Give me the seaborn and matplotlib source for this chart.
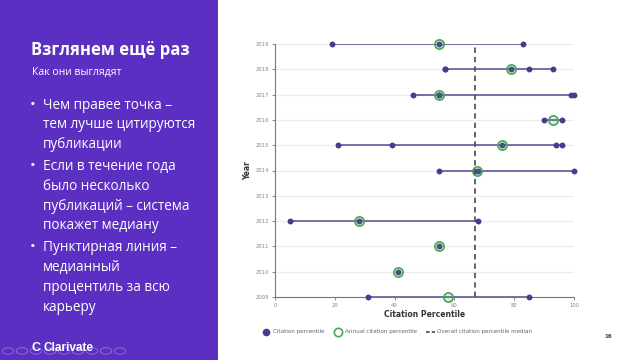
import matplotlib
matplotlib.use("Agg")
import matplotlib.pyplot as plt
from matplotlib.lines import Line2D
from matplotlib.patches import Rectangle, Circle
import seaborn as sns
import pandas as pd

# citation percentile of each paper, by year
paper_years = [2019, 2019, 2019,
               2018, 2018, 2018, 2018, 2018,
               2017, 2017, 2017, 2017, 2017,
               2016, 2016,
               2015, 2015, 2015, 2015, 2015,
               2014, 2014, 2014, 2014,
               2012, 2012, 2012,
               2011,
               2010,
               2009, 2009]
paper_pct = [19, 55, 83,
             57, 57, 79, 85, 93,
             46, 55, 55, 99, 100,
             90, 96,
             21, 39, 76, 94, 96,
             55, 67, 68, 100,
             5, 28, 68,
             55,
             41,
             31, 85]

# annual (median) citation percentile
annual_years = [2019, 2018, 2017, 2016, 2015, 2014, 2012, 2011, 2010, 2009]
annual_pct = [55, 79, 55, 93, 76, 67.5, 28, 55, 41, 58]

overall_median = 67
year_ticks = list(range(2009, 2020))
x_ticks = [0, 20, 40, 60, 80, 100]

purple_panel = "#5a2fc2"
dot_col = "#483c8c"
line_col = "#5f5898"
green = "#4aa556"

papers = pd.DataFrame({"Year": paper_years, "Citation Percentile": paper_pct})
annual = pd.DataFrame({"Year": annual_years, "Citation Percentile": annual_pct})
spans = papers.groupby("Year")["Citation Percentile"].agg(["min", "max"]).reset_index()

sns.set_theme(style="white")
fig = plt.figure(figsize=(6.4, 3.6), dpi=100)
fig.patch.set_facecolor("white")

# left purple panel with text
fig.patches.append(Rectangle((0, 0), 218 / 640, 1, transform=fig.transFigure,
                             facecolor=purple_panel, edgecolor="none", zorder=0))
fig.text(31 / 640, 1 - 50 / 360, "Взглянем ещё раз", color="white", fontsize=12,
         fontweight="bold", family="Open Sans", va="center")
fig.text(32 / 640, 1 - 72 / 360, "Как они выглядят", color="white", fontsize=7.5,
         family="Open Sans", va="center")
bullets = [
    ["Чем правее точка –", "тем лучше цитируются", "публикации"],
    ["Если в течение года", "было несколько", "публикаций – система", "покажет медиану"],
    ["Пунктирная линия –", "медианный", "процентиль за всю", "карьеру"],
]
y = 105
for b in bullets:
    fig.text(30 / 640, 1 - y / 360, "•", color="white", fontsize=11,
             family="Open Sans", va="center")
    for line in b:
        fig.text(43 / 640, 1 - y / 360, line, color="white", fontsize=9.8,
                 family="Open Sans", va="center")
        y += 19.8
    y += 2
fig.text(44 / 640, 1 - 348 / 360, "Clarivate", color="white", fontsize=8.5,
         fontweight="bold", family="Liberation Sans", va="center")
fig.text(31 / 640, 1 - 348 / 360, "C", color="white", fontsize=9,
         fontweight="bold", family="Liberation Sans", va="center")
for cx in [8, 22, 36, 50, 64, 78, 92, 106, 120]:
    fig.patches.append(Circle((cx / 640, 1 - 351 / 360), 0.009, transform=fig.transFigure,
                              facecolor="none", edgecolor="#8f78d8", lw=0.6, zorder=1))
fig.text(608 / 640, 1 - 337 / 360, "16", color="#444444", fontsize=4,
         fontweight="bold", ha="center", va="center")

# chart
ax = fig.add_axes([275 / 640, 1 - 297 / 360, 299 / 640, 253 / 360])
ax.set_facecolor("none")
for yr in year_ticks:
    ax.axhline(yr, color="#ececec", lw=0.9, zorder=0)
ax.hlines(spans["Year"], spans["min"], spans["max"], color=line_col, lw=1.2, zorder=2)
ax.axvline(overall_median, color="#555566", lw=1.3, ls=(0, (3, 2.2)), zorder=3)
sns.scatterplot(data=papers, x="Citation Percentile", y="Year", ax=ax, s=18,
                color=dot_col, edgecolor=dot_col, linewidth=0, zorder=4, clip_on=False)
sns.scatterplot(data=annual, x="Citation Percentile", y="Year", ax=ax, s=44,
                facecolor=(0.29, 0.65, 0.34, 0.18), edgecolor=green, linewidth=1.2,
                zorder=5, clip_on=False)

ax.set_xlim(0, 100)
ax.set_ylim(2009, 2019)
ax.set_xticks(x_ticks)
ax.set_yticks(year_ticks)
ax.tick_params(axis="both", labelsize=3.8, labelcolor="#888888", length=2.5,
               width=0.6, color="#777777", pad=1.5, bottom=True, left=True)
for side in ["top", "right"]:
    ax.spines[side].set_visible(False)
for side in ["left", "bottom"]:
    ax.spines[side].set_color("#777777")
    ax.spines[side].set_linewidth(0.8)
ax.set_xlabel("Citation Percentile", fontsize=5.5, fontweight="bold", color="#333333", labelpad=2)
ax.set_ylabel("Year", fontsize=5.5, fontweight="bold", color="#333333", labelpad=3)

handles = [
    Line2D([], [], marker="o", ls="none", color=dot_col, markersize=4.5),
    Line2D([], [], marker="o", ls="none", markerfacecolor="none",
           markeredgecolor=green, markeredgewidth=1.2, markersize=6),
    Line2D([], [], color="#555566", lw=1.3, ls=(0, (2, 1.2))),
]
labels = ["Citation percentile", "Annual citation percentile", "Overall citation percentile median"]
fig.legend(handles, labels, loc="center left", bbox_to_anchor=(256 / 640, 1 - 332 / 360),
           ncol=3, frameon=False, fontsize=4.1, labelcolor="#666666",
           handlelength=1.6, handletextpad=0.5, columnspacing=1.5)

fig.savefig("out.png", dpi=100, facecolor="white")
